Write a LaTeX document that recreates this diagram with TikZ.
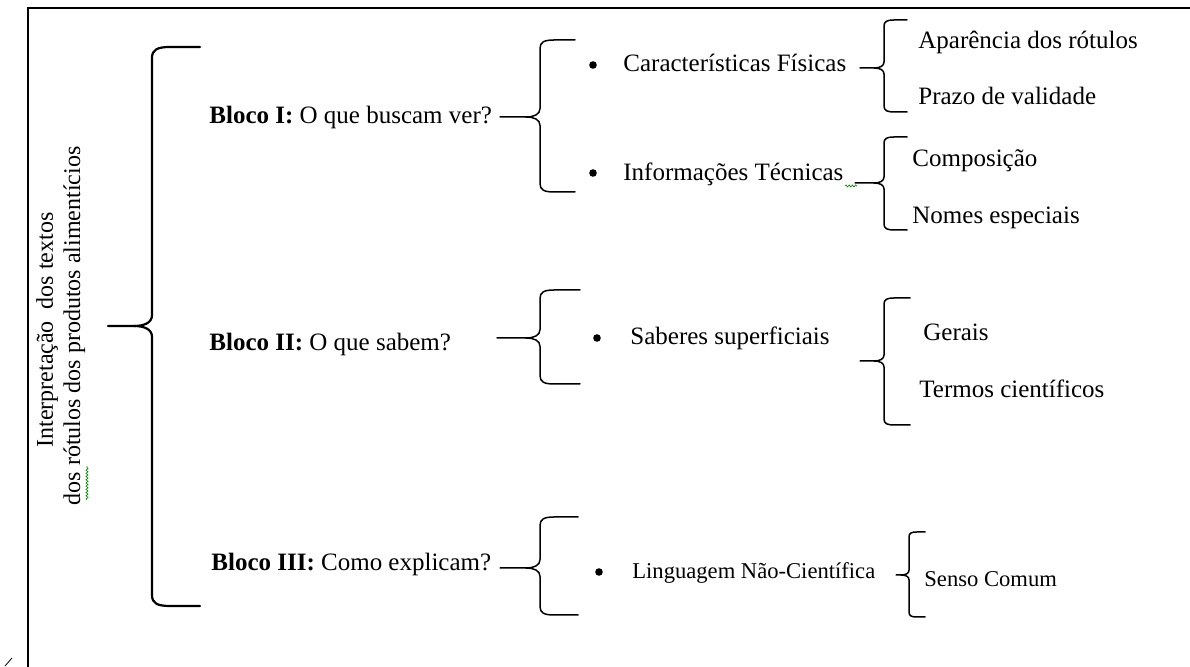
\documentclass[tikz,border=0pt]{standalone}
\usepackage{fontspec}
\setmainfont{Liberation Serif}
\usetikzlibrary{decorations.pathmorphing}
% Word-like curly brace: [line width]{tip start x}{spine x}{arm end x}{top y}{tip y}{bottom y}{curve size}
\newcommand{\wbrace}[8][0.75pt]{%
 \draw[line width=#1,line cap=round] (#2,#6) -- ({#3-#8},#6)
   .. controls ({#3-0.4*#8},#6) and (#3,{#6-0.2*#8}) .. (#3,{#6-0.6*#8})
   -- (#3,{#5+0.6*#8}) .. controls (#3,{#5+0.15*#8}) and ({#3+0.3*#8},#5) .. ({#3+#8},#5) -- (#4,#5);
 \draw[line width=#1,line cap=round] ({#3-#8},#6)
   .. controls ({#3-0.4*#8},#6) and (#3,{#6+0.2*#8}) .. (#3,{#6+0.6*#8})
   -- (#3,{#7-0.6*#8}) .. controls (#3,{#7-0.15*#8}) and ({#3+0.3*#8},#7) .. ({#3+#8},#7) -- (#4,#7);
}
\begin{document}
\begin{tikzpicture}[x=0.5pt,y=-0.5pt,
  lbl/.style={anchor=base west, inner sep=0pt, font=\fontsize{12.5}{15}\selectfont},
  sml/.style={anchor=base west, inner sep=0pt, font=\fontsize{11.3}{14}\selectfont},
  rot/.style={anchor=base, inner sep=0pt, rotate=90, font=\fontsize{12}{14}\selectfont},
  bul/.style={circle, fill=black, inner sep=0pt, minimum size=3.8pt},
  squig/.style={draw=green!55!black, line width=0.35pt, decorate,
    decoration={snake, segment length=1.6pt, amplitude=0.5pt}},
]
\useasboundingbox (0,0) rectangle (1190,667);
\fill[white] (0,0) rectangle (1190,667);
% frame (top and left only)
\draw[line width=1.2pt] (1190,8) -- (28,8) -- (28,667);
\draw[line width=0.4pt] (5,666) -- (12,658);

% rotated title
\node[rot] (t1) at (53,330) {Interpretação\ \ dos textos};
\node[rot] (t2) at (80,326) {dos rótulos dos produtos alimentícios};
\draw[squig] (87,500) -- (87,466);

% big brace
\wbrace[1.1pt]{108}{152}{200}{47}{326}{606}{18}

% blocks
\node[lbl] (b1) at (209,124) {\textbf{Bloco I:} O que buscam ver?};
\node[lbl] (b2) at (209,351) {\textbf{Bloco II:} O que sabem?};
\node[lbl] (b3) at (211,571) {\textbf{Bloco III:} Como explicam?};

% block braces
\wbrace{500}{540}{575}{40}{117}{192}{14}
\wbrace{497}{540}{580}{290}{338}{384}{14}
\wbrace{500}{540}{578}{517}{568}{615}{14}

% bullets and items
\node[bul] (p1) at (593,65) {};
\node[bul] (p2) at (593,173) {};
\node[bul] (p3) at (597,338) {};
\node[bul] (p4) at (599,572) {};
\node[lbl] (c1) at (623,72) {Características Físicas};
\node[lbl] (c2) at (623,181) {Informações Técnicas};
\node[lbl] (c3) at (630,345) {Saberes superficiais};
\node[sml] (c4) at (632,579) {Linguagem Não-Científica};
\draw[squig] (845,186) -- (857,186);

% sub braces
\wbrace{860}{884}{907}{20}{68}{112}{10}
\wbrace{855}{884}{907}{137}{183}{230}{10}
\wbrace{860}{884}{910}{298}{361}{425}{10}
\wbrace{896}{909}{925}{532}{575}{617}{8}

% leaves
\node[lbl] (d1) at (918,49) {Aparência dos rótulos};
\node[lbl] (d2) at (918,105) {Prazo de validade};
\node[lbl] (d3) at (912,167) {Composição};
\node[lbl] (d4) at (912,224) {Nomes especiais};
\node[lbl] (d5) at (923,341) {Gerais};
\node[lbl] (d6) at (919,398) {Termos científicos};
\node[sml] (d7) at (924,587) {Senso Comum};
\end{tikzpicture}
\end{document}
